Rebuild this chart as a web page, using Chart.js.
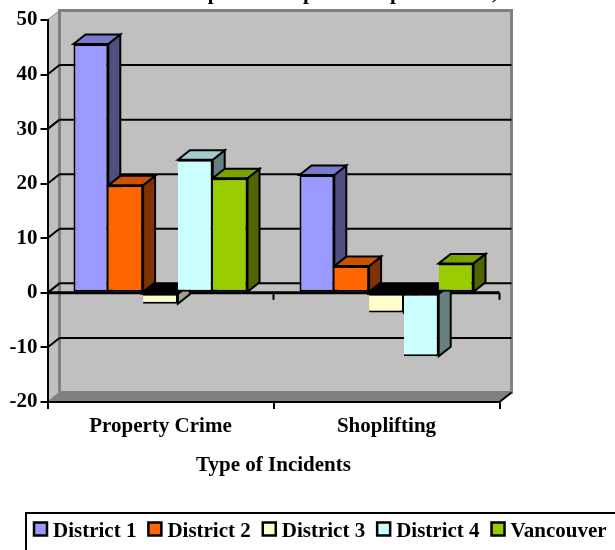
<!DOCTYPE html>
<html>
<head>
<meta charset="utf-8">
<title>Type of Incidents</title>
<script src="https://cdn.jsdelivr.net/npm/chart.js@4"></script>
<style>
body { margin: 0; background: #fff; overflow: hidden; }
canvas { display: block; }
</style>
</head>
<body>
<canvas id="chart_bar" width="615" height="550"></canvas>
<script>
var categories = ["Property Crime", "Shoplifting"]
var seriesNames = ["District 1", "District 2", "District 3", "District 4", "Vancouver"]
var district1 = [45.6, 21.6]
var district2 = [19.7, 4.9]
var district3 = [-2, -3.6]
var district4 = [24.4, -11.6]
var vancouver = [21, 5.4]
var titleText = "Compared to April 1 - September 30, 2006"
var xTitle = "Type of Incidents"

var front = ["#9999FF", "#FF6600", "#FFFFCC", "#CCFFFF", "#99CC00"]
var topFace = ["#7A7ACC", "#CC5200", "#CCCCA3", "#A3CCCC", "#7AA300"]
var sideFace = ["#4F4F80", "#803300", "#A0A080", "#668080", "#4D6600"]

var font = {family: "'Liberation Serif', serif", size: 21, weight: "bold"}
var dx = 12, dy = 9.5

function poly(ctx, pts, fill){
	ctx.beginPath()
	ctx.moveTo(pts[0][0], pts[0][1])
	for (var i = 1; i < pts.length; i++) ctx.lineTo(pts[i][0], pts[i][1])
	ctx.closePath()
	if (fill) { ctx.fillStyle = fill; ctx.fill() }
	ctx.stroke()
}

function line(ctx, x0, y0, x1, y1){
	ctx.beginPath()
	ctx.moveTo(x0, y0)
	ctx.lineTo(x1, y1)
	ctx.stroke()
}

// back wall, side wall, floor and the gridlines on them
var walls = {
	id: "walls",
	afterLayout: function(chart){
		chart.titleBlock.left += 47
		chart.titleBlock.right += 47
		chart.legend.left = 22
		chart.legend.right = 700
		chart.legend.top = 509
	},
	beforeDraw: function(chart){
		var ctx = chart.ctx, a = chart.chartArea, y = chart.scales.y
		var l = a.left, r = a.right, t = a.top, b = a.bottom
		ctx.save()
		ctx.lineJoin = "miter"

		ctx.strokeStyle = "#808080"
		ctx.lineWidth = 3
		poly(ctx, [[l+dx, t-dy], [r+dx, t-dy], [r+dx, b-dy], [l+dx, b-dy]], "#C0C0C0")
		ctx.lineWidth = 1
		poly(ctx, [[l, t], [l+dx, t-dy], [l+dx, b-dy], [l, b]], "#C0C0C0")
		ctx.lineWidth = 3
		line(ctx, l+dx, t-dy, l+dx, b-dy)
		ctx.lineWidth = 1
		poly(ctx, [[l, b], [l+dx, b-dy], [r+dx, b-dy], [r, b]], "#808080")

		ctx.strokeStyle = "#000"
		ctx.lineWidth = 2
		line(ctx, r, b, r+dx, b-dy)
		y.ticks.forEach(function(tk){
			if (tk.value == y.min || tk.value == y.max) return
			var py = y.getPixelForValue(tk.value)
			line(ctx, l, py, l+dx, py-dy)
			line(ctx, l+dx, py-dy, r+dx, py-dy)
		})

		// zero plane
		var zero = y.getPixelForValue(0)
		ctx.lineWidth = 3
		line(ctx, l, zero, r, zero)
		ctx.lineWidth = 2
		line(ctx, (l+r)/2, zero, (l+r)/2, zero+7)
		line(ctx, r, zero, r, zero+7)
		ctx.restore()
	},
	// depth faces go under all the fronts, left series first
	beforeDatasetsDraw: function(chart){
		var ctx = chart.ctx
		ctx.save()
		ctx.strokeStyle = "#000"
		ctx.lineWidth = 2
		ctx.lineJoin = "miter"
		chart.data.datasets.forEach(function(d, i){
			chart.getDatasetMeta(i).data.forEach(function(bar, k){
				var x0 = bar.x - bar.width/2, x1 = bar.x + bar.width/2
				var t = Math.min(bar.y, bar.base), b = Math.max(bar.y, bar.base)
				poly(ctx, [[x1, t], [x1+dx, t-dy], [x1+dx, b-dy], [x1, b]], sideFace[i])
				// a bar under zero shows a black hole at the zero plane
				poly(ctx, [[x0, t], [x0+dx, t-dy], [x1+dx, t-dy], [x1, t]], d.data[k] < 0 ? "#000" : topFace[i])
			})
		})
		ctx.restore()
	},
	afterDraw: function(chart){
		var ctx = chart.ctx, lg = chart.legend
		var pad = lg.options.labels.padding
		var cy = lg.top + pad + font.size/2 - 2.5
		var x = lg.left + pad
		ctx.save()
		ctx.strokeStyle = "#000"
		ctx.lineWidth = 2
		ctx.strokeRect(26, 513, 700, 100)
		ctx.lineWidth = 2.5
		lg.legendHitBoxes.forEach(function(hb, i){
			ctx.fillStyle = front[i]
			ctx.fillRect(x, cy-6.5, 13, 13)
			ctx.strokeRect(x, cy-6.5, 13, 13)
			x += hb.width + pad
		})
		ctx.restore()
	}
}

var series = [district1, district2, district3, district4, vancouver]
var datasets = series.map(function(v, i){
	return {
		label: seriesNames[i],
		data: v,
		backgroundColor: front[i],
		borderColor: "#000",
		borderWidth: 2,
		borderSkipped: i == 0 ? false : "left",
		categoryPercentage: 0.77,
		barPercentage: 1
	}
})

var ctx = document.getElementById("chart_bar")
var myChart = new Chart(ctx, {
	type: "bar",
	data: {labels: categories, datasets: datasets},
	plugins: [walls],
	options: {
		responsive: false,
		animation: false,
		plugins: {
			tooltip: {enabled: false},
			title: {
				display: true,
				text: titleText,
				color: "#000",
				font: font,
				padding: {top: -18.6, bottom: 13.4}
			},
			legend: {
				position: "bottom",
				align: "start",
				labels: {
					font: font,
					color: "#000",
					boxWidth: 8.5,
					boxHeight: 8,
					padding: 12,
					generateLabels: function(chart){
						return chart.data.datasets.map(function(d, i){
							return {text: d.label, fillStyle: "transparent", strokeStyle: "transparent", lineWidth: 0, datasetIndex: i}
						})
					}
				}
			}
		},
		scales: {
			x: {
				grid: {drawOnChartArea: false, color: "#000", lineWidth: 2, tickLength: 7},
				border: {color: "#000", width: 2},
				ticks: {font: font, color: "#000", padding: 5, maxRotation: 0, autoSkip: false},
				title: {display: true, text: xTitle, color: "#000", font: font, padding: {top: 0, bottom: 29}},
				afterFit: function(s){ s.height = 105 }
			},
			y: {
				min: -20,
				max: 50,
				grid: {drawOnChartArea: false, color: "#000", lineWidth: 2, tickLength: 7},
				border: {color: "#000", width: 2},
				ticks: {stepSize: 10, font: font, color: "#000", padding: 3},
				afterFit: function(s){ s.width = 47.5 }
			},
			// empty axis, only keeps the room right of the plot
			spacer: {
				axis: "y",
				position: "right",
				grid: {display: false},
				border: {display: false},
				ticks: {display: false},
				afterFit: function(s){ s.width = 115.5 }
			}
		}
	}
})
</script>
</body>
</html>
